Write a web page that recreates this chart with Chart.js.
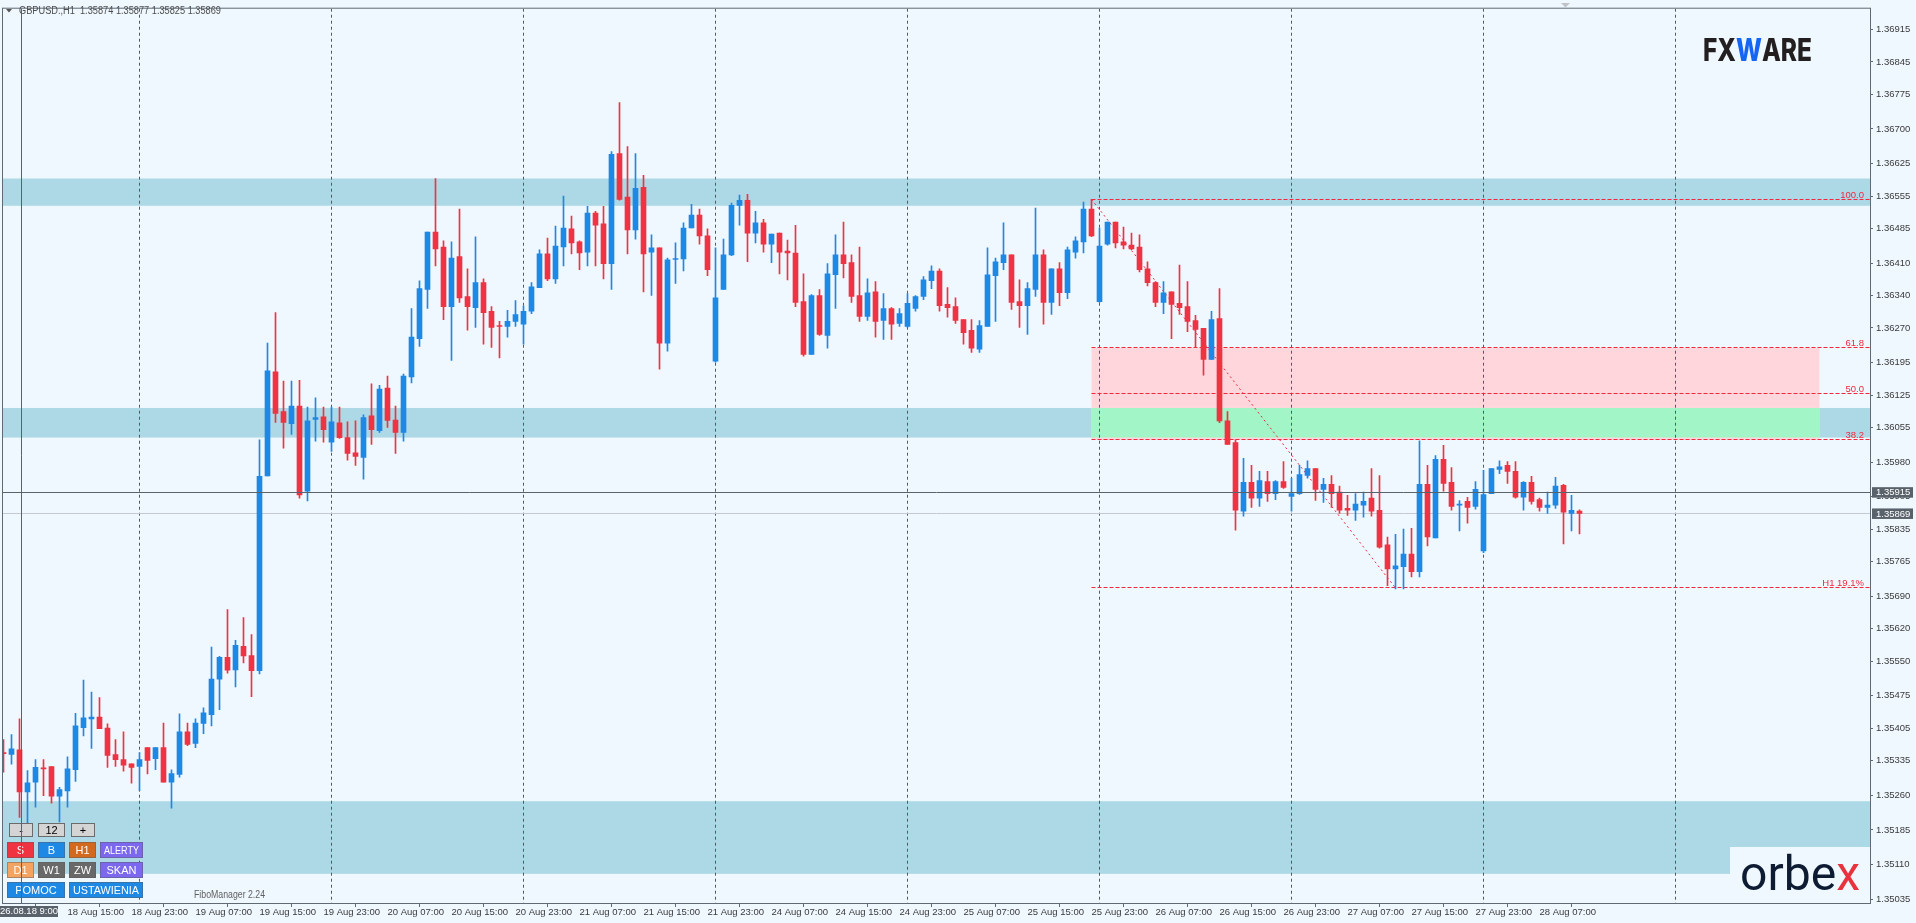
<!DOCTYPE html>
<html>
<head>
<meta charset="utf-8">
<title>GBPUSD H1</title>
<script src="https://cdn.jsdelivr.net/npm/chart.js@4.4.0/dist/chart.umd.min.js"></script>
<style>
  html, body { margin: 0; padding: 0; background: #f0f8ff; overflow: hidden; }
  canvas { display: block; }
</style>
</head>
<body>
<canvas id="priceChart" width="1916" height="923"></canvas>
<script>
// hourly bars (oldest first)
const opens = [
  1.35352,1.35348,1.35358,1.35267,1.35288,1.35319,1.35322,1.35258,1.35269,1.35315,
  1.35406,1.35425,1.35429,1.35405,1.35348,1.35337,1.35328,1.35322,1.35363,1.35339,
  1.35363,1.35288,1.35305,1.35397,1.35372,1.35415,1.35434,1.35511,1.35558,1.35531,
  1.35582,1.35562,1.35529,1.35950,1.36175,1.36089,1.36063,1.36101,1.35917,1.36072,
  1.36078,1.36023,1.36065,1.36033,1.36000,1.35990,1.36080,1.36048,1.36140,1.36071,
  1.36044,1.36164,1.36247,1.36353,1.36477,1.36445,1.36316,1.36424,1.36338,1.36314,
  1.36368,1.36306,1.36275,1.36273,1.36284,1.36278,1.36306,1.36357,1.36430,1.36376,
  1.36445,1.36484,1.36456,1.36434,1.36518,1.36495,1.36409,1.36647,1.36553,1.36482,
  1.36574,1.36434,1.36443,1.36237,1.36418,1.36419,1.36486,1.36514,1.36469,1.36198,
  1.36353,1.36428,1.36535,1.36546,1.36475,1.36497,1.36451,1.36475,1.36436,1.36432,
  1.36327,1.36213,1.36340,1.36254,1.36385,1.36428,1.36411,1.36340,1.36295,1.36348,
  1.36286,1.36312,1.36280,1.36273,1.36312,1.36338,1.36372,1.36393,1.36321,1.36316,
  1.36288,1.36265,1.36224,1.36273,1.36383,1.36411,1.36428,1.36327,1.36318,1.36353,
  1.36428,1.36325,1.36398,1.36346,1.36434,1.36456,1.36527,1.36327,1.36451,1.36499,
  1.36456,1.36449,1.36445,1.36398,1.36368,1.36325,1.36348,1.36323,1.36316,1.36286,
  1.36269,1.36202,1.36290,1.36069,1.36022,1.35874,1.35936,1.35902,1.35938,1.35912,
  1.35938,1.35906,1.35912,1.35951,1.35966,1.35921,1.35932,1.35915,1.35880,1.35876,
  1.35887,1.35902,1.35876,1.35801,1.35749,1.35754,1.35781,1.35743,1.35932,1.35816,
  1.35986,1.35936,1.35887,1.35895,1.35884,1.35788,1.35912,1.35964,1.35973,1.35960,
  1.35904,1.35936,1.35899,1.35882,1.35887,1.35930,1.35869,1.35874
];
const highs = [
  1.35380,1.35391,1.35425,1.35313,1.35337,1.35337,1.35322,1.35277,1.35343,1.35437,
  1.35509,1.35483,1.35471,1.35414,1.35380,1.35397,1.35328,1.35352,1.35363,1.35363,
  1.35416,1.35315,1.35436,1.35416,1.35425,1.35449,1.35580,1.35560,1.35661,1.35595,
  1.35644,1.35607,1.36028,1.36237,1.36303,1.36155,1.36155,1.36157,1.36099,1.36119,
  1.36099,1.36099,1.36099,1.36067,1.36069,1.36082,1.36149,1.36146,1.36166,1.36101,
  1.36170,1.36312,1.36372,1.36477,1.36593,1.36458,1.36456,1.36527,1.36398,1.36467,
  1.36376,1.36316,1.36284,1.36308,1.36329,1.36318,1.36368,1.36439,1.36464,1.36490,
  1.36555,1.36512,1.36458,1.36533,1.36522,1.36533,1.36651,1.36757,1.36662,1.36647,
  1.36600,1.36471,1.36443,1.36421,1.36454,1.36497,1.36537,1.36527,1.36484,1.36443,
  1.36462,1.36540,1.36557,1.36559,1.36522,1.36505,1.36473,1.36475,1.36460,1.36492,
  1.36387,1.36342,1.36353,1.36409,1.36471,1.36499,1.36428,1.36445,1.36376,1.36370,
  1.36344,1.36314,1.36312,1.36344,1.36340,1.36381,1.36404,1.36398,1.36357,1.36335,
  1.36288,1.36288,1.36286,1.36443,1.36421,1.36497,1.36428,1.36374,1.36368,1.36529,
  1.36439,1.36398,1.36411,1.36445,1.36467,1.36542,1.36548,1.36486,1.36499,1.36499,
  1.36488,1.36475,1.36471,1.36413,1.36370,1.36370,1.36348,1.36406,1.36370,1.36297,
  1.36269,1.36306,1.36355,1.36089,1.36028,1.35988,1.35973,1.35960,1.35960,1.35940,
  1.35981,1.35945,1.35973,1.35983,1.35966,1.35945,1.35951,1.35928,1.35908,1.35912,
  1.35915,1.35966,1.35951,1.35818,1.35824,1.35835,1.35837,1.36026,1.35973,1.35994,
  1.36016,1.35968,1.35897,1.35904,1.35938,1.35962,1.35966,1.35983,1.35981,1.35981,
  1.35938,1.35949,1.35902,1.35915,1.35947,1.35932,1.35908,1.35877
];
const lows = [
  1.35310,1.35327,1.35212,1.35199,1.35234,1.35259,1.35243,1.35202,1.35234,1.35290,
  1.35388,1.35361,1.35404,1.35320,1.35322,1.35312,1.35286,1.35270,1.35306,1.35315,
  1.35288,1.35232,1.35299,1.35367,1.35363,1.35393,1.35410,1.35445,1.35524,1.35494,
  1.35546,1.35473,1.35522,1.35950,1.36066,1.36010,1.36040,1.35902,1.35896,1.36025,
  1.36023,1.36003,1.36031,1.35984,1.35973,1.35943,1.36018,1.36044,1.36055,1.35999,
  1.36025,1.36151,1.36230,1.36312,1.36404,1.36288,1.36200,1.36325,1.36265,1.36271,
  1.36235,1.36228,1.36205,1.36250,1.36273,1.36235,1.36301,1.36357,1.36372,1.36366,
  1.36404,1.36430,1.36396,1.36404,1.36404,1.36376,1.36353,1.36546,1.36430,1.36462,
  1.36348,1.36340,1.36181,1.36220,1.36366,1.36393,1.36486,1.36451,1.36383,1.36196,
  1.36353,1.36426,1.36492,1.36413,1.36454,1.36434,1.36411,1.36387,1.36374,1.36316,
  1.36209,1.36213,1.36254,1.36226,1.36312,1.36378,1.36325,1.36284,1.36286,1.36250,
  1.36245,1.36245,1.36273,1.36271,1.36306,1.36331,1.36355,1.36306,1.36293,1.36280,
  1.36235,1.36217,1.36217,1.36273,1.36284,1.36396,1.36310,1.36271,1.36256,1.36338,
  1.36278,1.36299,1.36318,1.36333,1.36421,1.36432,1.36467,1.36325,1.36449,1.36443,
  1.36441,1.36439,1.36391,1.36361,1.36316,1.36301,1.36247,1.36299,1.36262,1.36228,
  1.36168,1.36202,1.36065,1.36018,1.35833,1.35863,1.35882,1.35884,1.35895,1.35899,
  1.35923,1.35874,1.35910,1.35945,1.35897,1.35893,1.35882,1.35869,1.35865,1.35854,
  1.35861,1.35863,1.35794,1.35713,1.35706,1.35706,1.35732,1.35732,1.35799,1.35816,
  1.35917,1.35876,1.35831,1.35848,1.35878,1.35784,1.35912,1.35955,1.35934,1.35902,
  1.35876,1.35889,1.35874,1.35869,1.35880,1.35803,1.35831,1.35825
];
const closes = [
  1.35350,1.35360,1.35267,1.35287,1.35320,1.35317,1.35258,1.35272,1.35317,1.35410,
  1.35427,1.35429,1.35404,1.35346,1.35337,1.35325,1.35320,1.35337,1.35335,1.35363,
  1.35288,1.35307,1.35397,1.35370,1.35416,1.35438,1.35511,1.35558,1.35530,1.35584,
  1.35561,1.35529,1.35949,1.36177,1.36085,1.36066,1.36101,1.35909,1.36069,1.36076,
  1.36050,1.36067,1.36033,1.35999,1.35992,1.36076,1.36050,1.36138,1.36070,1.36044,
  1.36166,1.36250,1.36355,1.36477,1.36441,1.36316,1.36421,1.36335,1.36316,1.36368,
  1.36303,1.36271,1.36273,1.36284,1.36299,1.36306,1.36359,1.36430,1.36376,1.36447,
  1.36486,1.36454,1.36432,1.36518,1.36492,1.36409,1.36645,1.36548,1.36482,1.36572,
  1.36430,1.36443,1.36237,1.36417,1.36419,1.36486,1.36514,1.36469,1.36396,1.36335,
  1.36428,1.36535,1.36546,1.36475,1.36497,1.36451,1.36473,1.36434,1.36432,1.36325,
  1.36213,1.36340,1.36256,1.36387,1.36428,1.36409,1.36338,1.36295,1.36346,1.36284,
  1.36312,1.36278,1.36301,1.36323,1.36338,1.36374,1.36393,1.36318,1.36314,1.36286,
  1.36260,1.36226,1.36275,1.36385,1.36413,1.36428,1.36325,1.36318,1.36355,1.36428,
  1.36325,1.36398,1.36346,1.36439,1.36458,1.36527,1.36469,1.36447,1.36499,1.36454,
  1.36449,1.36441,1.36396,1.36368,1.36325,1.36346,1.36321,1.36314,1.36284,1.36267,
  1.36202,1.36288,1.36069,1.36018,1.35876,1.35936,1.35902,1.35940,1.35912,1.35938,
  1.35925,1.35912,1.35953,1.35966,1.35921,1.35932,1.35912,1.35876,1.35876,1.35889,
  1.35895,1.35874,1.35796,1.35749,1.35756,1.35781,1.35743,1.35932,1.35818,1.35986,
  1.35934,1.35884,1.35889,1.35882,1.35921,1.35910,1.35966,1.35970,1.35960,1.35904,
  1.35936,1.35895,1.35882,1.35887,1.35928,1.35872,1.35876,1.35869
];

// time axis labels, one every 8 bars starting at bar 8
const timeLabels = [
  "18 Aug 15:00","18 Aug 23:00","19 Aug 07:00","19 Aug 15:00","19 Aug 23:00","20 Aug 07:00",
  "20 Aug 15:00","20 Aug 23:00","21 Aug 07:00","21 Aug 15:00","21 Aug 23:00","24 Aug 07:00",
  "24 Aug 15:00","24 Aug 23:00","25 Aug 07:00","25 Aug 15:00","25 Aug 23:00","26 Aug 07:00",
  "26 Aug 15:00","26 Aug 23:00","27 Aug 07:00","27 Aug 15:00","27 Aug 23:00","28 Aug 07:00"
];
const priceLabels = [
  "1.36915","1.36845","1.36775","1.36700","1.36625","1.36555","1.36485","1.36410","1.36340",
  "1.36270","1.36195","1.36125","1.36055","1.35980","1.35905","1.35835","1.35765","1.35690",
  "1.35620","1.35550","1.35475","1.35405","1.35335","1.35260","1.35185","1.35110","1.35035"
];

// support / resistance zones [low, high]
const zones = [[1.36534, 1.36593], [1.36033, 1.36097], [1.35090, 1.35247]];
// fibo: anchors (bar index) and levels
const fiboFrom = 136, fiboTo = 174, fiboBoxEnd = 227;
const fiboPrices = [1.36548, 1.36227, 1.36129, 1.36028, 1.35708];
const fiboNames = ["100.0", "61.8", "50.0", "38.2", "H1 19.1%"];
const crossPrice = 1.35915, crossBar = 2.25, crossTime = "26.08.18 9:00";
const symbol = "GBPUSD.,H1";

const BG = "#f0f8ff", UP = "#1e88e5", DOWN = "#ef3340", FRAME = "#5f6a74";
const FONT = '"Liberation Sans", Arial, sans-serif';
Chart.defaults.font.family = FONT;

const barIdx = opens.map((o, i) => i);
const candleColors = opens.map((o, i) => closes[i] >= o ? UP : DOWN);
const dayLines = [17, 41, 65, 89, 113, 137, 161, 185, 209];

const overlay = {
  id: "overlay",
  beforeDraw(chart) {
    const c = chart.ctx;
    c.save();
    c.fillStyle = BG;
    c.fillRect(0, 0, chart.width, chart.height);
    c.restore();
  },
  beforeDatasetsDraw(chart) {
    const { ctx: c, chartArea: a, scales: { x, y } } = chart;
    const py = v => y.getPixelForValue(v);
    c.save();
    c.beginPath();
    c.rect(a.left, a.top, a.right - a.left, a.bottom - a.top);
    c.clip();

    c.fillStyle = "#add8e6";
    zones.forEach(([lo, hi]) => c.fillRect(a.left, py(hi), a.right - a.left, py(lo) - py(hi)));
    // orbex logo panel hides the zone
    c.fillStyle = BG;
    c.fillRect(1730, 847, a.right - 1730, a.bottom - 847);

    // fibo retracement box
    const bx0 = x.getPixelForValue(fiboFrom), bx1 = x.getPixelForValue(fiboBoxEnd);
    const bt = py(fiboPrices[1]), bb = py(fiboPrices[3]);
    c.fillStyle = "#ffd6dc";
    c.fillRect(bx0, bt, bx1 - bx0, bb - bt);
    c.fillStyle = "#a2f5c6";
    zones.forEach(([lo, hi]) => {
      const t = Math.max(bt, py(hi)), b = Math.min(bb, py(lo));
      if (b > t) c.fillRect(bx0, t, bx1 - bx0, b - t);
    });

    // day separators
    c.strokeStyle = "#4f5a63";
    c.lineWidth = 1;
    c.setLineDash([3, 3]);
    dayLines.forEach(d => {
      const xx = Math.floor(x.getPixelForValue(d)) + 0.5;
      c.beginPath(); c.moveTo(xx, a.top); c.lineTo(xx, a.bottom); c.stroke();
    });

    // bid line
    c.setLineDash([]);
    c.strokeStyle = "#c4cad0";
    const by = Math.floor(py(closes[closes.length - 1])) + 0.5;
    c.beginPath(); c.moveTo(a.left, by); c.lineTo(a.right, by); c.stroke();

    // fibo levels
    c.strokeStyle = "#f0283e";
    c.fillStyle = "#f0283e";
    c.font = "9.5px " + FONT;
    c.textAlign = "right";
    c.textBaseline = "alphabetic";
    fiboPrices.forEach((p, k) => {
      const ly = Math.floor(py(p)) + 0.5;
      c.setLineDash([4, 2]);
      c.beginPath(); c.moveTo(bx0, ly); c.lineTo(a.right, ly); c.stroke();
      c.fillText(fiboNames[k], a.right - 6, ly - 2);
    });
    c.setLineDash([2, 3]);
    c.beginPath();
    c.moveTo(bx0, py(fiboPrices[0]));
    c.lineTo(x.getPixelForValue(fiboTo), py(fiboPrices[4]));
    c.stroke();
    c.restore();
  },
  afterDatasetsDraw(chart) {
    const { ctx: c, chartArea: a, scales: { y } } = chart;
    c.save();
    c.strokeStyle = "#59636c";
    c.lineWidth = 1;
    const hy = Math.floor(y.getPixelForValue(crossPrice)) + 0.5;
    c.beginPath(); c.moveTo(a.left, hy); c.lineTo(a.right, hy); c.stroke();
    c.strokeStyle = FRAME;
    c.strokeRect(a.left - 0.5, a.top - 0.5, a.right - a.left + 1, a.bottom - a.top + 1);
    c.restore();
  },
  afterDraw(chart) {
    const { ctx: c, chartArea: a, scales: { x, y } } = chart;
    const n = opens.length - 1;
    c.save();

    // header
    c.fillStyle = "#555";
    c.beginPath(); c.moveTo(6, 9); c.lineTo(12, 9); c.lineTo(9, 12.5); c.closePath(); c.fill();
    c.fillStyle = "#4d4d4d";
    c.font = "10px " + FONT;
    c.textBaseline = "middle";
    c.textAlign = "left";
    const head = symbol + "  " + [opens[n], highs[n], lows[n], closes[n]].map(v => v.toFixed(5)).join(" ");
    c.fillText(head, 19, 11.5, 202);

    // shift marker
    c.fillStyle = "#bfc3c7";
    c.beginPath(); c.moveTo(1561, 3); c.lineTo(1570, 3); c.lineTo(1565.5, 7.5); c.closePath(); c.fill();

    // panel buttons
    const buttons = [
      ["-", 9, 823, 24, 14, "#d4d4d4", "#000"], ["12", 38, 823, 27, 14, "#d4d4d4", "#000"],
      ["+", 71, 823, 24, 14, "#d4d4d4", "#000"],
      ["S", 7, 842, 27, 16, "#ef3340", "#fff"], ["B", 38, 842, 27, 16, "#1e88e5", "#fff"],
      ["H1", 69, 842, 27, 16, "#d2691e", "#fff"], ["ALERTY", 100, 842, 43, 16, "#7b68ee", "#fff"],
      ["D1", 7, 862, 27, 16, "#f4a460", "#fff"], ["W1", 38, 862, 27, 16, "#696969", "#fff"],
      ["ZW", 69, 862, 27, 16, "#696969", "#fff"], ["SKAN", 100, 862, 43, 16, "#7b68ee", "#fff"],
      ["POMOC", 7, 882, 58, 16, "#1e88e5", "#fff"], ["USTAWIENIA", 69, 882, 74, 16, "#1e88e5", "#fff"]
    ];
    c.font = "11px " + FONT;
    c.textAlign = "center";
    buttons.forEach(([t, bx, by, bw, bh, bg, fg]) => {
      c.fillStyle = bg;
      c.fillRect(bx, by, bw, bh);
      c.strokeStyle = fg === "#000" ? "#6b6b6b" : "rgba(90,90,90,0.45)";
      c.strokeRect(bx + 0.5, by + 0.5, bw - 1, bh - 1);
      c.fillStyle = fg;
      c.fillText(t, bx + bw / 2, by + bh / 2 + 0.5, bw - 8);
    });
    c.fillStyle = "#5f5f5f";
    c.textAlign = "left";
    c.fillText("FiboManager 2.24", 194, 895, 71);

    // logos
    const logo = (parts, font, x0, base, w) => {
      c.font = font;
      const total = parts.reduce((s, p) => s + c.measureText(p[0]).width, 0);
      c.save();
      c.translate(x0, base);
      c.scale(w / total, 1);
      c.textBaseline = "alphabetic";
      let cx = 0;
      parts.forEach(([t, col]) => { c.fillStyle = col; c.fillText(t, cx, 0); cx += c.measureText(t).width; });
      c.restore();
    };
    logo([["FX", "#231f20"], ["W", "#1565f5"], ["ARE", "#231f20"]], "800 31px Inter, " + FONT, 1703, 61, 109);
    logo([["orbe", "#0d1b33"], ["x", "#e8333f"]], "400 48px Roboto, " + FONT, 1740, 890, 120);

    // crosshair vertical
    const vx = Math.floor(x.getPixelForValue(crossBar)) + 0.5;
    c.strokeStyle = "#59636c";
    c.beginPath(); c.moveTo(vx, a.top); c.lineTo(vx, a.bottom); c.stroke();

    // axis boxes
    c.font = "9.5px " + FONT;
    c.textBaseline = "middle";
    [crossPrice, closes[n]].forEach(p => {
      const yy = y.getPixelForValue(p);
      c.fillStyle = "#59626b";
      c.fillRect(a.right + 2, yy - 5, 41, 10.5);
      c.fillStyle = "#fff";
      c.textAlign = "left";
      c.fillText(p.toFixed(5), a.right + 6, yy + 0.5);
    });
    c.fillStyle = "#59626b";
    c.fillRect(0, 906, 58, 11);
    c.fillStyle = "#fff";
    c.textAlign = "center";
    c.fillText(crossTime, 29, 911.5);
    c.restore();
  }
};

new Chart(document.getElementById("priceChart"), {
  type: "bar",
  data: {
    datasets: [
      {
        label: "body",
        data: barIdx.map(i => ({ x: i, y: [opens[i], closes[i]] })),
        backgroundColor: candleColors,
        barThickness: 5,
        minBarLength: 1,
        borderWidth: 0,
        grouped: false,
        order: 0
      },
      {
        label: "wick",
        data: barIdx.map(i => ({ x: i, y: [lows[i], highs[i]] })),
        backgroundColor: candleColors,
        barThickness: 1,
        minBarLength: 1,
        borderWidth: 0,
        grouped: false,
        order: 1
      }
    ]
  },
  options: {
    responsive: false,
    animation: false,
    events: [],
    layout: { padding: { top: 3, left: 3, right: 0, bottom: 0 } },
    plugins: { legend: { display: false }, tooltip: { enabled: false } },
    scales: {
      x: {
        type: "linear",
        min: -0.0625,
        max: 233.3125,
        offset: false,
        afterFit: s => { s.height = 20; },
        afterBuildTicks: s => { s.ticks = timeLabels.map((t, k) => ({ value: 8 + 8 * k })); },
        ticks: {
          callback: (v, i) => timeLabels[i],
          align: "start",
          autoSkip: false,
          maxRotation: 0,
          padding: 0,
          color: "#3a3a3a",
          font: { size: 9.5 }
        },
        grid: { drawOnChartArea: false, drawTicks: true, tickLength: 4, color: FRAME },
        border: { display: false }
      },
      y: {
        type: "linear",
        position: "right",
        min: 1.35027,
        max: 1.36960,
        afterFit: s => { s.width = 46; },
        afterBuildTicks: s => { s.ticks = priceLabels.map(t => ({ value: parseFloat(t) })); },
        ticks: {
          callback: (v, i) => priceLabels[i],
          autoSkip: false,
          padding: 3,
          color: "#3a3a3a",
          font: { size: 9.5 }
        },
        grid: { drawOnChartArea: false, drawTicks: true, tickLength: 3, color: FRAME },
        border: { display: false }
      }
    }
  },
  plugins: [overlay]
});
</script>
</body>
</html>
